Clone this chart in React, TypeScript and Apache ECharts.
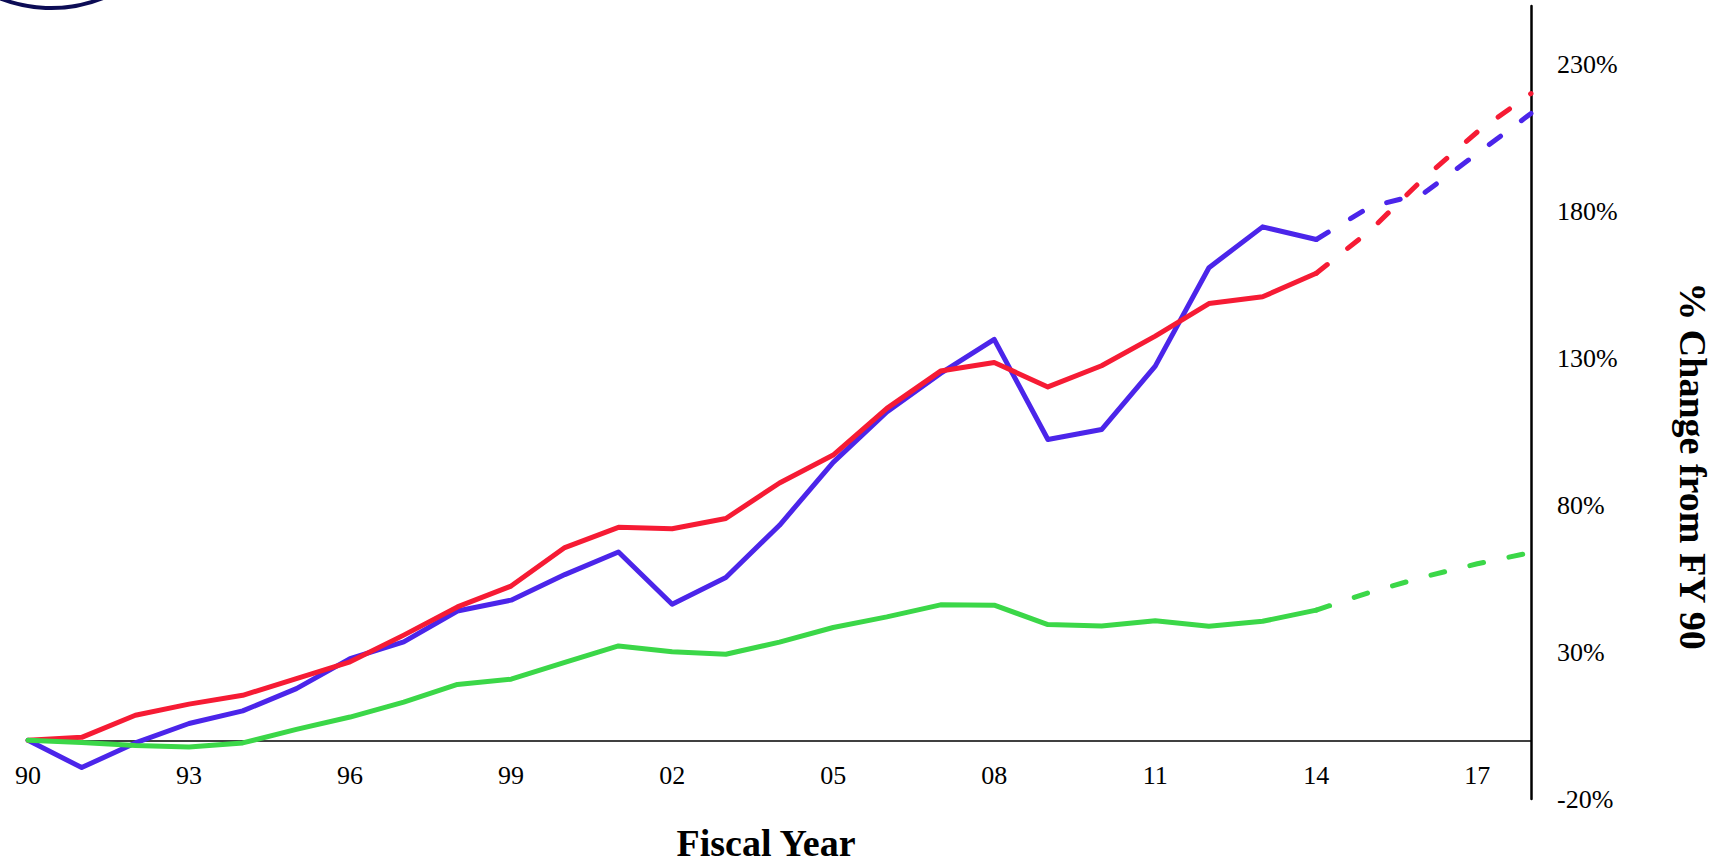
import React, { useEffect, useRef } from "react";
import * as echarts from "echarts";

const years = [
  "90", "91", "92", "93", "94", "95", "96", "97", "98", "99",
  "00", "01", "02", "03", "04", "05", "06", "07", "08", "09",
  "10", "11", "12", "13", "14", "15", "16", "17", "18",
];

// FY 1990 – FY 2014 (actual)
const blueActual = [0, -9.3, -0.9, 5.7, 10.0, 17.6, 27.8, 33.5, 44.0, 47.7, 56.4, 64.1, 46.3, 55.4, 73.2, 94.6, 111.8, 124.9, 136.5, 102.4, 105.8, 127.4, 160.9, 174.8, 170.5];
const redActual = [0, 1.0, 8.5, 12.3, 15.3, 21.0, 26.7, 35.8, 45.4, 52.5, 65.6, 72.5, 72.0, 75.5, 87.6, 97.1, 113.0, 125.7, 128.6, 120.3, 127.5, 137.6, 148.7, 151.0, 159.0];
const greenActual = [0, -0.8, -1.8, -2.3, -0.9, 3.7, 7.9, 13.0, 19.0, 20.8, 26.5, 32.1, 30.1, 29.3, 33.4, 38.4, 42.0, 46.1, 46.0, 39.4, 38.9, 40.7, 38.8, 40.5, 44.3];

// FY 2014 – FY 2018 (projected)
const blueProjected = [170.5, 181.6, 186.2, 199.8, 213.4];
const redProjected = [159.0, 173.5, 191.3, 207.1, 220.2];
const greenProjected = [44.3, 50.4, 55.6, 60.1, 63.9];

const yLabelValues = [-20, 30, 80, 130, 180, 230];

const BLUE = "#4b25ea";
const RED = "#f61b34";
const GREEN = "#3bd748";
const FONT = "'Liberation Serif', 'Times New Roman', serif";

function actualData(vals: number[]) {
  return years.map((_, i) => (i < vals.length ? vals[i] : null));
}
function projectedData(vals: number[]) {
  const start = years.length - vals.length;
  return years.map((_, i) => (i >= start ? vals[i - start] : null));
}

export default function App() {
  const ref = useRef<HTMLDivElement>(null);

  useEffect(() => {
    if (!ref.current) return;
    const chart = echarts.init(ref.current, null, { renderer: "svg" });

    const solid = (name: string, color: string, vals: number[]) => ({
      name,
      type: "line",
      data: actualData(vals),
      symbol: "none",
      connectNulls: false,
      lineStyle: { color, width: 5, cap: "round", join: "round" },
      z: 3,
    });
    const dashed = (name: string, color: string, vals: number[]) => ({
      name,
      type: "line",
      data: projectedData(vals),
      symbol: "none",
      lineStyle: {
        color,
        width: 5,
        type: [14, 26],
        cap: "round",
        join: "round",
      },
      z: 3,
    });

    chart.setOption({
      animation: false,
      backgroundColor: "#ffffff",
      grid: { left: 28, right: 198, top: 6, bottom: 65, containLabel: false },
      xAxis: {
        type: "category",
        data: years,
        boundaryGap: false,
        axisLine: { onZero: true, lineStyle: { color: "#000", width: 1.5 } },
        axisTick: { show: false },
        axisLabel: {
          interval: 2,
          margin: -37,
          color: "#000",
          fontFamily: FONT,
          fontSize: 26,
        },
        splitLine: { show: false },
      },
      yAxis: {
        type: "value",
        position: "right",
        min: -20,
        max: 250,
        interval: 10,
        axisLine: { show: true, onZero: false, lineStyle: { color: "#000", width: 2.5 } },
        axisTick: { show: false },
        splitLine: { show: false },
        axisLabel: {
          margin: 26,
          color: "#000",
          fontFamily: FONT,
          fontSize: 26,
          formatter: (v: number) =>
            yLabelValues.some((t) => Math.abs(t - v) < 1e-6) ? `${Math.round(v)}%` : "",
        },
      },
      series: [
        solid("Blue", BLUE, blueActual),
        dashed("Blue projected", BLUE, blueProjected),
        solid("Red", RED, redActual),
        dashed("Red projected", RED, redProjected),
        solid("Green", GREEN, greenActual),
        dashed("Green projected", GREEN, greenProjected),
      ],
      graphic: [
        {
          type: "circle",
          shape: { cx: 51, cy: -132, r: 140 },
          style: { fill: "none", stroke: "#0c0c55", lineWidth: 4 },
          silent: true,
        },
        {
          type: "text",
          x: 766,
          y: 843,
          style: {
            text: "Fiscal Year",
            fontFamily: FONT,
            fontWeight: "bold",
            fontSize: 38,
            fill: "#000",
            align: "center",
            verticalAlign: "middle",
          },
        },
        {
          type: "text",
          x: 1693,
          y: 466,
          rotation: -Math.PI / 2,
          style: {
            text: "% Change from FY 90",
            fontFamily: FONT,
            fontWeight: "bold",
            fontSize: 38,
            fill: "#000",
            align: "center",
            verticalAlign: "middle",
          },
        },
      ],
    });

    return () => chart.dispose();
  }, []);

  return (
    <div
      ref={ref}
      style={{ position: "fixed", left: 0, top: 0, width: 1729, height: 864, background: "#fff" }}
    />
  );
}
